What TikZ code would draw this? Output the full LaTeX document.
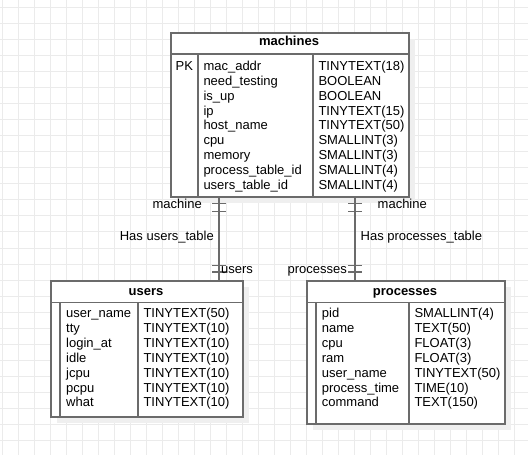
\documentclass[tikz,border=0pt]{standalone}
\usepackage{fontspec}
\setmainfont{Liberation Sans}
\definecolor{bord}{HTML}{6B6B6B}
\definecolor{gridc}{HTML}{EBEBEB}
\definecolor{shad}{HTML}{EFEFEF}
\begin{document}
\begin{tikzpicture}[x=1bp,y=-1bp,
  font=\fontsize{13bp}{15bp}\selectfont,
  tbl/.style={draw=bord, line width=1.6bp, fill=white, inner sep=0pt, anchor=north west},
  sepline/.style={draw=bord, line width=1.3bp},
  conn/.style={draw=bord, line width=1.1bp},
  txt/.style={inner sep=0pt, anchor=base west},
  txte/.style={inner sep=0pt, anchor=base east},
  hdr/.style={inner sep=0pt, anchor=base, font=\fontsize{13bp}{15bp}\selectfont\bfseries}]
\useasboundingbox (0,0) rectangle (528,455);
\fill[white] (0,0) rectangle (528,455);
\foreach \x in {2,18,...,526} \draw[gridc, line width=1bp] (\x,0) -- (\x,455);
\foreach \y in {8,24,...,455} \draw[gridc, line width=1bp] (0,\y) -- (528,\y);
% shadows
\fill[shad] (177,39) rectangle (415,203);
\fill[shad] (57,287) rectangle (249,423);
\fill[shad] (313,287) rectangle (511,430);
% tables
\node[tbl, minimum width=238bp, minimum height=164bp] (machines) at (170,32) {};
\node[tbl, minimum width=192bp, minimum height=136bp] (users) at (50,280) {};
\node[tbl, minimum width=198bp, minimum height=143bp] (processes) at (306,280) {};
% machines inner lines
\draw[sepline] (170,54) -- (408,54);
\draw[sepline] (198,54) -- (198,196);
\draw[sepline] (313,54) -- (313,196);
% users inner lines
\draw[sepline] (50,302.5) -- (242,302.5);
\draw[sepline] (60,302.5) -- (60,416);
\draw[sepline] (138,302.5) -- (138,416);
% processes inner lines
\draw[sepline] (306,302.5) -- (504,302.5);
\draw[sepline] (316,302.5) -- (316,423);
\draw[sepline] (409,302.5) -- (409,423);
% headers
\node[hdr] (mh) at (289,45.7) {machines};
\node[hdr] (uh) at (146,295) {users};
\node[hdr] (ph) at (405,295) {processes};
% machines rows
\node[txt] (mpk) at (175.5,70.7) {PK};
\foreach \f/\t [count=\i from 0] in {mac\_addr/TINYTEXT(18), need\_testing/BOOLEAN, is\_up/BOOLEAN, ip/TINYTEXT(15), host\_name/TINYTEXT(50), cpu/SMALLINT(3), memory/SMALLINT(3), process\_table\_id/SMALLINT(4), users\_table\_id/SMALLINT(4)}{
  \node[txt] (mf\i) at (203.3,70.7+14.8*\i) {\f};
  \node[txt] (mt\i) at (318.3,70.7+14.8*\i) {\t};
}
% users rows
\foreach \f/\t [count=\i from 0] in {user\_name/TINYTEXT(50), tty/TINYTEXT(10), login\_at/TINYTEXT(10), idle/TINYTEXT(10), jcpu/TINYTEXT(10), pcpu/TINYTEXT(10), what/TINYTEXT(10)}{
  \node[txt] (uf\i) at (66,317.5+14.9*\i) {\f};
  \node[txt] (ut\i) at (143.3,317.5+14.9*\i) {\t};
}
% processes rows
\foreach \f/\t [count=\i from 0] in {pid/SMALLINT(4), name/TEXT(50), cpu/FLOAT(3), ram/FLOAT(3), user\_name/TINYTEXT(50), process\_time/TIME(10), command/TEXT(150)}{
  \node[txt] (pf\i) at (321.7,317.5+14.9*\i) {\f};
  \node[txt] (pt\i) at (414.3,317.5+14.9*\i) {\t};
}
% connectors
\coordinate (uc) at (219,0);
\coordinate (pc) at (355,0);
\draw[conn] (uc |- machines.south) -- (uc |- users.north);
\draw[conn] (pc |- machines.south) -- (pc |- processes.north);
\foreach \c/\t in {uc/users, pc/processes}{
  \draw[conn] (\c |- machines.south) ++(-7,6) -- ++(14,0);
  \draw[conn] (\c |- machines.south) ++(-7,14) -- ++(14,0);
  \draw[conn] (\c |- \t.north) ++(-7,-8) -- ++(14,0);
  \draw[conn] (\c |- \t.north) ++(-7,-14.5) -- ++(14,0);
}
% connector labels
\node[txte] (lm1) at (202,208.5) {machine};
\node[txte] (lhu) at (214,240.7) {Has users\_table};
\node[txt] (lu) at (221,273.5) {users};
\node[txte] (lp) at (347,273.5) {processes};
\node[txt] (lm2) at (377.5,208.5) {machine};
\node[txt] (lhp) at (360.5,240.7) {Has processes\_table};
\end{tikzpicture}
\end{document}
